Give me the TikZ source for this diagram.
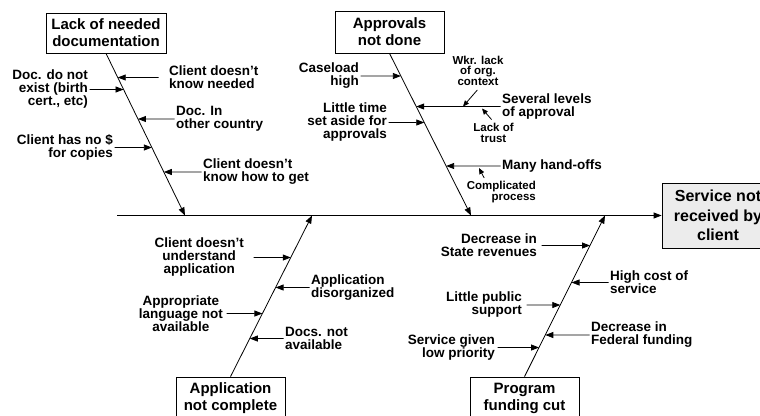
\documentclass[tikz,border=0pt]{standalone}
\usepackage{fontspec}
\setmainfont{Liberation Sans}
\usetikzlibrary{arrows.meta}
\definecolor{svcgray}{RGB}{236,236,236}
\begin{document}
\begin{tikzpicture}[x=1pt,y=-1pt,
  box/.style={draw, line width=0.8pt, fill=white, align=center,
    font=\fontsize{15}{17}\selectfont\bfseries, inner sep=0pt,
    minimum width=109pt, minimum height=42pt},
  lbl/.style={font=\fontsize{13.5}{13}\selectfont\bfseries, inner sep=1.5pt},
  tinylbl/.style={font=\fontsize{11.5}{10.5}\selectfont\bfseries, inner sep=1.5pt, align=center},
  bone/.style={line width=0.8pt, -{Triangle[length=8pt,width=6pt]}},
  cause/.style={line width=0.8pt, -{Triangle[length=8pt,width=6pt]}},
]
\useasboundingbox (0,0) rectangle (760,415);
\clip (0,0) rectangle (760,415);

% effect box and spine
\node[box, fill=svcgray, minimum width=112pt, minimum height=65pt,
  font=\fontsize{16}{19.5}\selectfont\bfseries] (svc) at (718,215.5)
  {Service not\\received by\\client};
\coordinate (sp0) at (117,215.5);
\draw[bone] (sp0) -- (svc.west);

% category boxes
\node[box, minimum width=120pt, minimum height=40pt] (b1) at (106,33) {Lack of needed\\documentation};
\node[box] (b2) at (389.5,32) {Approvals\\not done};
\node[box] (b3) at (230.5,398) {Application\\not complete};
\node[box] (b4) at (524.5,398) {Program\\funding cut};

% spine points
\coordinate (s1) at (185,215.5);
\coordinate (s2) at (471,215.5);
\coordinate (s3) at (312,215.5);
\coordinate (s4) at (605,215.5);

\draw[bone] (b1.south) -- (s1);
\draw[bone] (b2.south) -- (s2);
\draw[bone] (b3.north) -- (s3);
\draw[bone] (b4.north) -- (s4);

% bone 1 causes
\node[lbl, anchor=west, align=left] (l11) at (167.5,77.5) {Client doesn’t\\know needed};
\node[lbl, anchor=east, align=right] (l12) at (89.5,89.5) {Doc. do not\\exist (birth\\cert., etc)};
\node[lbl, anchor=west, align=left] (l13) at (174.5,119) {Doc. In\\other country};
\node[lbl, anchor=east, align=right] (l14) at (114.5,147.5) {Client has no \$\\for copies};
\node[lbl, anchor=west, align=left] (l15) at (201.5,172) {Client doesn’t\\know how to get};

\draw[cause, shorten <=9pt] (l11.west) -- (intersection of b1.south--s1 and l11.west--l11.east);
\draw[cause] (l12.east) -- (intersection of b1.south--s1 and l12.west--l12.east);
\draw[cause] (l13.west) -- (intersection of b1.south--s1 and l13.west--l13.east);
\draw[cause] (l14.east) -- (intersection of b1.south--s1 and l14.west--l14.east);
\draw[cause] (l15.west) -- (intersection of b1.south--s1 and l15.west--l15.east);

% bone 2 causes
\node[lbl, anchor=east, align=right] (l21) at (360.5,76) {Caseload\\high};
\node[lbl, anchor=west, align=left] (l22) at (500.5,106.5) {Several levels\\of approval};
\node[lbl, anchor=east, align=right] (l23) at (388.5,122.5) {Little time\\set aside for\\approvals};
\node[lbl, anchor=west, align=left] (l24) at (500.5,166) {Many hand-offs};
\node[tinylbl] (wkr) at (478,70.5) {Wkr. lack\\of org.\\context};
\node[tinylbl] (trust) at (493.5,133) {Lack of\\trust};
\node[tinylbl, anchor=east, align=right] (cp) at (537.5,192) {Complicated\\process};

\draw[cause] (l21.east) -- (intersection of b2.south--s2 and l21.west--l21.east);
\draw[cause] (l22.west) -- (intersection of b2.south--s2 and l22.west--l22.east);
\draw[cause] (l23.east) -- (intersection of b2.south--s2 and l23.west--l23.east);
\draw[cause] (l24.west) -- (intersection of b2.south--s2 and l24.west--l24.east);

\coordinate (wkrtip) at (463,106.5);
\coordinate (trusttip) at (482,108.5);
\coordinate (cptip) at (479,168);
\draw[cause, -{Triangle[length=6pt,width=5pt]}, shorten <=4pt] ([xshift=2pt]wkr.south) -- (wkrtip);
\draw[cause, -{Triangle[length=6pt,width=5pt]}, shorten <=3pt] (trust.north) -- (trusttip);
\draw[cause, -{Triangle[length=6pt,width=5pt]}, shorten <=2pt] ([xshift=20pt]cp.north west) -- (cptip);

% bone 3 causes
\node[lbl, anchor=east, align=center] (l31) at (245.5,257.5) {Client doesn’t\\understand\\application};
\node[lbl, anchor=west, align=left] (l32) at (309.5,287.5) {Application\\disorganized};
\node[lbl, anchor=east, align=center] (l33) at (224.5,313.5) {Appropriate\\language not\\available};
\node[lbl, anchor=west, align=left] (l34) at (283.5,338.5) {Docs. not\\available};

\draw[cause, shorten <=8pt] (l31.east) -- (intersection of b3.north--s3 and l31.west--l31.east);
\draw[cause] (l32.west) -- (intersection of b3.north--s3 and l32.west--l32.east);
\draw[cause, shorten <=2pt] (l33.east) -- (intersection of b3.north--s3 and l33.west--l33.east);
\draw[cause] (l34.west) -- (intersection of b3.north--s3 and l34.west--l34.east);

% bone 4 causes
\node[lbl, anchor=east, align=right] (l41) at (538.5,245.5) {Decrease in\\State revenues};
\node[lbl, anchor=west, align=left] (l42) at (608.5,282.5) {High cost of\\service};
\node[lbl, anchor=east, align=right] (l43) at (523.5,305) {Little public\\support};
\node[lbl, anchor=west, align=left] (l44) at (589.5,335) {Decrease in\\Federal funding};
\node[lbl, anchor=east, align=right] (l45) at (496.5,347.5) {Service given\\low priority};

\draw[cause, shorten <=3pt] (l41.east) -- (intersection of b4.north--s4 and l41.west--l41.east);
\draw[cause] (l42.west) -- (intersection of b4.north--s4 and l42.west--l42.east);
\draw[cause, shorten <=3pt] (l43.east) -- (intersection of b4.north--s4 and l43.west--l43.east);
\draw[cause] (l44.west) -- (intersection of b4.north--s4 and l44.west--l44.east);
\draw[cause, shorten <=1pt] (l45.east) -- (intersection of b4.north--s4 and l45.west--l45.east);
\end{tikzpicture}
\end{document}
